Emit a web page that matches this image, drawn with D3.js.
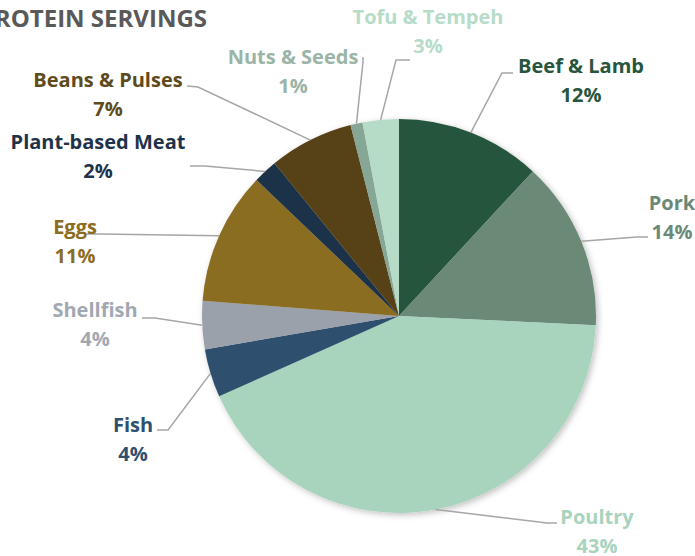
<!DOCTYPE html>
<html>
<head>
<meta charset="utf-8">
<script src="https://cdn.jsdelivr.net/npm/d3@7"></script>
<style>
  body { margin: 0; background: #fff; }
  #chart { width: 695px; height: 556px; overflow: hidden; }
  text { font-family: "Open Sans", sans-serif; font-weight: bold; }
</style>
</head>
<body>
<div id="chart"></div>
<script>
// data
var categories = ["Beef & Lamb", "Pork", "Poultry", "Fish", "Shellfish", "Eggs",
                  "Plant-based Meat", "Beans & Pulses", "Nuts & Seeds", "Tofu & Tempeh"];
var shares = [12, 14, 43, 4, 4, 11, 2, 7, 1, 3];
var colors = ["#27553d", "#6a8a77", "#a8d3bd", "#2f4f6e", "#9aa1ab", "#8b6d22",
              "#1e3349", "#574215", "#86a796", "#b6dcc8"];
var labelColors = ["#27553d", "#6a8a77", "#a8d3bd", "#2f4f6e", "#a2a8b2", "#8b6d22",
                   "#1e3349", "#5e4a1a", "#9ab4a6", "#b6dcc8"];

// label layout (name centre), leader end + elbow near the label
var labelAt = [[581, 66], [672, 203], [597, 517], [133, 425], [95, 310],
               [75, 227], [98, 142], [108, 80], [293, 57], [428, 17]];
var lineEnd = [[513, 73], [648, 237], [557, 523], [157, 430], [142, 318],
               [87, 234], [190, 166], [187, 86], [363, 57], [410, 60]];
var lineElbow = [[502, 73], [637, 237], [547, 523], [168, 430], [155, 318],
                 [100, 234], [205, 166], [198, 87], [363, 62], [396, 60]];

var w = 695;
var h = 556;
var cx = 399, cy = 316, r = 197;

var svg = d3.select("#chart")
            .append("svg")
            .attr("width", w)
            .attr("height", h);

var defs = svg.append("defs");
defs.append("filter")
    .attr("id", "shadow")
    .attr("x", "-20%").attr("y", "-20%")
    .attr("width", "140%").attr("height", "140%")
  .append("feDropShadow")
    .attr("dx", 2).attr("dy", 2)
    .attr("stdDeviation", 3)
    .attr("flood-color", "#000")
    .attr("flood-opacity", 0.25);

// title (first letter runs off the left edge like the original)
svg.append("text")
   .attr("x", 207)
   .attr("y", 27)
   .attr("text-anchor", "end")
   .attr("font-size", "24px")
   .attr("fill", "#595959")
   .text("PROTEIN SERVINGS");

var pie = d3.pie().sort(null).value(function(d) { return d; });
var arcs = pie(shares);
var arc = d3.arc().innerRadius(0).outerRadius(r);

var g = svg.append("g")
           .attr("transform", "translate(" + cx + "," + cy + ")");

g.append("g")
 .attr("filter", "url(#shadow)")
 .selectAll("path")
 .data(arcs)
 .enter()
 .append("path")
 .attr("d", arc)
 .attr("fill", function(d, i) { return colors[i]; });

// leader lines
function edgePoint(d) {
  var a = (d.startAngle + d.endAngle) / 2;
  return [cx + r * Math.sin(a), cy - r * Math.cos(a)];
}

svg.selectAll("polyline.leader")
   .data(arcs)
   .enter()
   .append("polyline")
   .attr("class", "leader")
   .attr("points", function(d, i) {
     var p = edgePoint(d);
     return [p, lineElbow[i], lineEnd[i]].map(function(q) { return q.join(","); }).join(" ");
   })
   .attr("fill", "none")
   .attr("stroke", "#a6a6a6")
   .attr("stroke-width", 1.5);

// labels
var labels = svg.selectAll("g.label")
   .data(arcs)
   .enter()
   .append("g")
   .attr("class", "label")
   .attr("transform", function(d, i) { return "translate(" + labelAt[i][0] + "," + labelAt[i][1] + ")"; });

labels.append("text")
      .attr("text-anchor", "middle")
      .attr("dy", "0.35em")
      .attr("font-size", "20px")
      .attr("fill", function(d, i) { return labelColors[i]; })
      .text(function(d, i) { return categories[i]; });

labels.append("text")
      .attr("text-anchor", "middle")
      .attr("y", 29)
      .attr("dy", "0.35em")
      .attr("font-size", "20px")
      .attr("fill", function(d, i) { return labelColors[i]; })
      .text(function(d) { return d.data + "%"; });
</script>
</body>
</html>
